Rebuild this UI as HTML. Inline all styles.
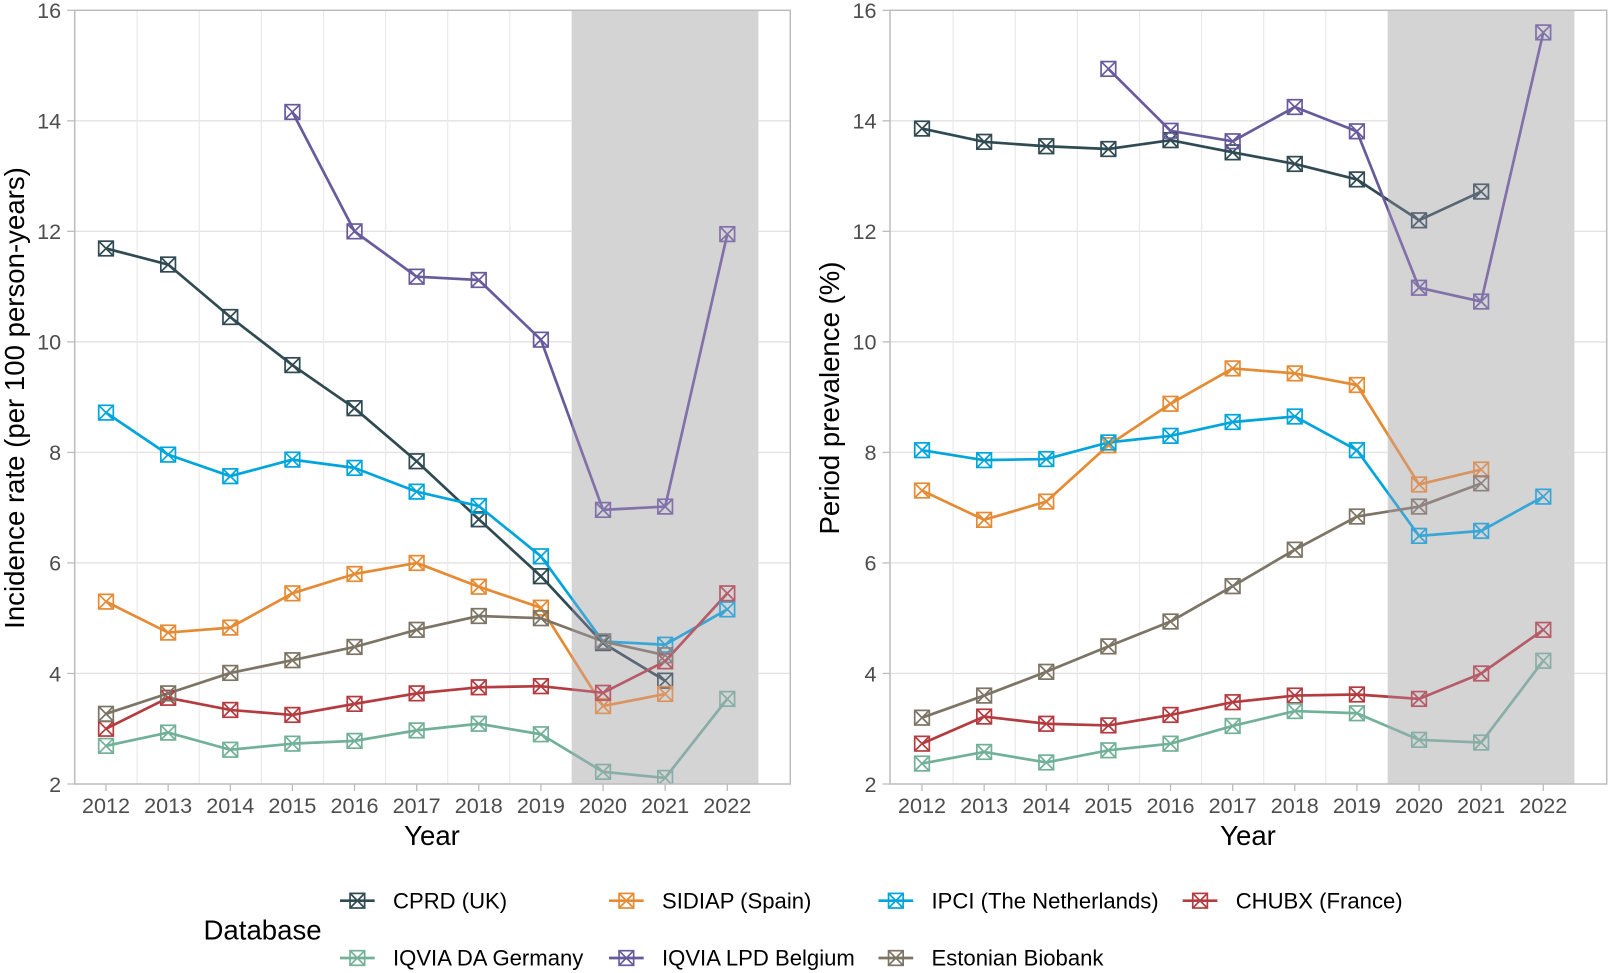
<!DOCTYPE html>
<html lang="en">
<head>
<meta charset="utf-8">
<title>Incidence rate and period prevalence by database</title>
<style>
  html, body { margin: 0; padding: 0; background: #fff; }
  svg { display: block; font-family: "Liberation Sans", sans-serif; }
</style>
</head>
<body>
<svg id="chart" xmlns="http://www.w3.org/2000/svg" width="1610" height="973" viewBox="0 0 1610 973">
  <defs>
    <clipPath id="clip-left"><rect x="74.7" y="10.3" width="715.6" height="773.7"/></clipPath>
    <clipPath id="clip-right"><rect x="890" y="10.3" width="716.7" height="773.7"/></clipPath>
  </defs>
  <g id="left-panel"></g>
  <g id="right-panel"></g>
  <g id="legend">
    <text x="203.5" y="939.3" font-size="27.6" fill="#000">Database</text>
  </g>
</svg>
<script>
const years = [2012, 2013, 2014, 2015, 2016, 2017, 2018, 2019, 2020, 2021, 2022];
const yTicks = [2, 4, 6, 8, 10, 12, 14, 16];
const gridYears = [2012.5, 2013.5, 2014.5, 2015.5, 2016.5, 2017.5, 2018.5, 2019.5];
const pandemicStart = 2019.5;
const pandemicEnd = 2022.5;

const seriesNames = ["CPRD (UK)", "SIDIAP (Spain)", "IPCI (The Netherlands)", "CHUBX (France)", "IQVIA DA Germany", "IQVIA LPD Belgium", "Estonian Biobank"];
const seriesColors = ["#2f4a52", "#e58b34", "#00a5dc", "#b43c40", "#72b098", "#675b9c", "#7c7464"];

const incidenceCprd = [11.69, 11.40, 10.45, 9.58, 8.80, 7.84, 6.79, 5.76, 4.55, 3.87, null];
const incidenceSidiap = [5.30, 4.74, 4.83, 5.45, 5.80, 6.00, 5.57, 5.19, 3.41, 3.63, null];
const incidenceIpci = [8.72, 7.96, 7.57, 7.87, 7.72, 7.29, 7.03, 6.12, 4.58, 4.52, 5.16];
const incidenceChubx = [3.00, 3.56, 3.34, 3.25, 3.45, 3.64, 3.75, 3.77, 3.65, 4.22, 5.45];
const incidenceIqviaDa = [2.69, 2.93, 2.62, 2.73, 2.78, 2.97, 3.09, 2.90, 2.22, 2.11, 3.54];
const incidenceLpd = [null, null, null, 14.16, 12.00, 11.18, 11.12, 10.04, 6.96, 7.02, 11.95];
const incidenceEstonian = [3.27, 3.64, 4.01, 4.24, 4.48, 4.79, 5.04, 5.00, 4.58, 4.33, null];

const prevalenceCprd = [13.86, 13.62, 13.54, 13.49, 13.65, 13.43, 13.22, 12.94, 12.20, 12.72, null];
const prevalenceSidiap = [7.31, 6.78, 7.11, 8.13, 8.88, 9.52, 9.43, 9.22, 7.42, 7.69, null];
const prevalenceIpci = [8.04, 7.86, 7.88, 8.18, 8.30, 8.55, 8.65, 8.04, 6.49, 6.58, 7.20];
const prevalenceChubx = [2.73, 3.22, 3.09, 3.06, 3.25, 3.48, 3.60, 3.62, 3.54, 4.00, 4.79];
const prevalenceIqviaDa = [2.37, 2.58, 2.39, 2.61, 2.73, 3.05, 3.32, 3.28, 2.80, 2.75, 4.23];
const prevalenceLpd = [null, null, null, 14.94, 13.82, 13.63, 14.25, 13.81, 10.98, 10.73, 15.60];
const prevalenceEstonian = [3.20, 3.60, 4.03, 4.49, 4.94, 5.58, 6.24, 6.84, 7.02, 7.44, null];

const incidenceSeries = [incidenceCprd, incidenceSidiap, incidenceIpci, incidenceChubx, incidenceIqviaDa, incidenceLpd, incidenceEstonian];
const prevalenceSeries = [prevalenceCprd, prevalenceSidiap, prevalenceIpci, prevalenceChubx, prevalenceIqviaDa, prevalenceLpd, prevalenceEstonian];

const NS = "http://www.w3.org/2000/svg";
const MARK = 7.3;

function make(parent, tag, attrs, text) {
  const el = document.createElementNS(NS, tag);
  for (const k in attrs) el.setAttribute(k, attrs[k]);
  if (text !== undefined) el.textContent = text;
  parent.appendChild(el);
  return el;
}

function slug(s) {
  return s.toLowerCase().replace(/[^a-z0-9]+/g, "-").replace(/^-|-$/g, "");
}

function drawMarker(parent, cx, cy, color, name) {
  const g = make(parent, "g", { fill: "none", stroke: color, "stroke-width": 1.7 });
  
  
  make(g, "rect", { x: cx - MARK, y: cy - MARK, width: 2 * MARK, height: 2 * MARK });
  make(g, "path", { d: `M${cx - MARK} ${cy - MARK}L${cx + MARK} ${cy + MARK}M${cx - MARK} ${cy + MARK}L${cx + MARK} ${cy - MARK}` });
}

function drawPanel(root, cfg, seriesList) {
  const xScale = v => cfg.x2012 + (v - 2012) * cfg.step;
  const yScale = v => cfg.bottom - (v - 2) * (cfg.bottom - cfg.top) / 14;

  const grid = make(root, "g", {});
  
  
  yTicks.forEach(t => {
    if (t === 2 || t === 16) return;
    make(grid, "line", { x1: cfg.left, x2: cfg.right, y1: yScale(t), y2: yScale(t), stroke: "#e2e2e2", "stroke-width": 1.4 });
  });
  gridYears.forEach(t => {
    make(grid, "line", { x1: xScale(t), x2: xScale(t), y1: cfg.top, y2: cfg.bottom, stroke: "#e9e9e9", "stroke-width": 1.2 });
  });

  const rx = xScale(pandemicStart);
  const rw = xScale(pandemicEnd) - rx;
  make(root, "rect", { x: rx, y: cfg.top, width: rw, height: cfg.bottom - cfg.top, fill: "rgb(223,231,219)" });

  const plot = make(root, "g", { "clip-path": `url(#${cfg.clip})` });
  
  

  seriesList.forEach((vals, i) => {
    let d = "";
    vals.forEach((v, j) => {
      if (v === null) return;
      d += (d ? "L" : "M") + xScale(years[j]).toFixed(2) + " " + yScale(v).toFixed(2);
    });
    const line = make(plot, "path", { d: d, fill: "none", stroke: seriesColors[i], "stroke-width": 2.7, "stroke-linejoin": "round" });
    
    
  });
  seriesList.forEach((vals, i) => {
    vals.forEach((v, j) => {
      if (v === null) return;
      drawMarker(plot, xScale(years[j]), yScale(v), seriesColors[i], 'point-' + slug(seriesNames[i]) + '-' + years[j]);
    });
  });

  const shade = make(root, "rect", { x: rx, y: cfg.top, width: rw, height: cfg.bottom - cfg.top, fill: "rgb(190,170,200)", "fill-opacity": 0.3 });
  
  

  const border = make(root, "rect", { x: cfg.left, y: cfg.top, width: cfg.right - cfg.left, height: cfg.bottom - cfg.top, fill: "none", stroke: "#bcbcbc", "stroke-width": 1.5 });
  
  

  const yAxis = make(root, "g", {});
  
  
  yTicks.forEach(t => {
    make(yAxis, "line", { x1: cfg.left - 7.5, x2: cfg.left, y1: yScale(t), y2: yScale(t), stroke: "#bcbcbc", "stroke-width": 1.3 });
    const lbl = make(yAxis, "text", { x: cfg.left - 13.5, y: yScale(t) + 7.8, "text-anchor": "end", "font-size": 21.6, fill: "#4d4d4d" }, String(t));
    
    
  });

  const xAxis = make(root, "g", {});
  
  
  years.forEach(t => {
    make(xAxis, "line", { x1: xScale(t), x2: xScale(t), y1: cfg.bottom, y2: cfg.bottom + 7, stroke: "#bcbcbc", "stroke-width": 1.3 });
    const lbl = make(xAxis, "text", { x: xScale(t), y: 813, "text-anchor": "middle", "font-size": 21.6, fill: "#4d4d4d" }, String(t));
    
    
  });

  const xTitle = make(root, "text", { x: cfg.xTitleX, y: 845, "text-anchor": "middle", "font-size": 27.6, fill: "#000" }, "Year");
  
  

  const yTitle = make(root, "text", { transform: `translate(${cfg.yTitleX} ${cfg.yTitleY}) rotate(-90)`, "text-anchor": "middle", "font-size": 27.6, fill: "#000" }, cfg.yTitle);
  
  
}

drawPanel(document.getElementById("left-panel"), {
  left: 74.7, right: 790.3, top: 10.3, bottom: 784,
  x2012: 106, step: 62.13, clip: "clip-left",
  xTitleX: 432, yTitleX: 24, yTitleY: 398,
  yTitle: "Incidence rate (per 100 person-years)"
}, incidenceSeries);

drawPanel(document.getElementById("right-panel"), {
  left: 890, right: 1606.7, top: 10.3, bottom: 784,
  x2012: 922, step: 62.13, clip: "clip-right",
  xTitleX: 1248, yTitleX: 839, yTitleY: 398,
  yTitle: "Period prevalence (%)"
}, prevalenceSeries);

const legendRoot = document.getElementById("legend");
const legendKeyX = [340, 609, 878.5, 1182.7, 340, 609, 878.5];
const legendRowY = [900.7, 900.7, 900.7, 900.7, 958, 958, 958];
seriesNames.forEach((name, i) => {
  const g = make(legendRoot, "g", {});
  
  
  const x0 = legendKeyX[i];
  const yy = legendRowY[i];
  make(g, "line", { x1: x0, x2: x0 + 34.7, y1: yy, y2: yy, stroke: seriesColors[i], "stroke-width": 2.7 });
  drawMarker(g, x0 + 17.35, yy, seriesColors[i], 'legend-marker-' + slug(name));
  const t = make(g, "text", { x: x0 + 53, y: yy + 7.6, "font-size": 22.1, fill: "#000" }, name);
  
  
});
</script>
</body>
</html>
